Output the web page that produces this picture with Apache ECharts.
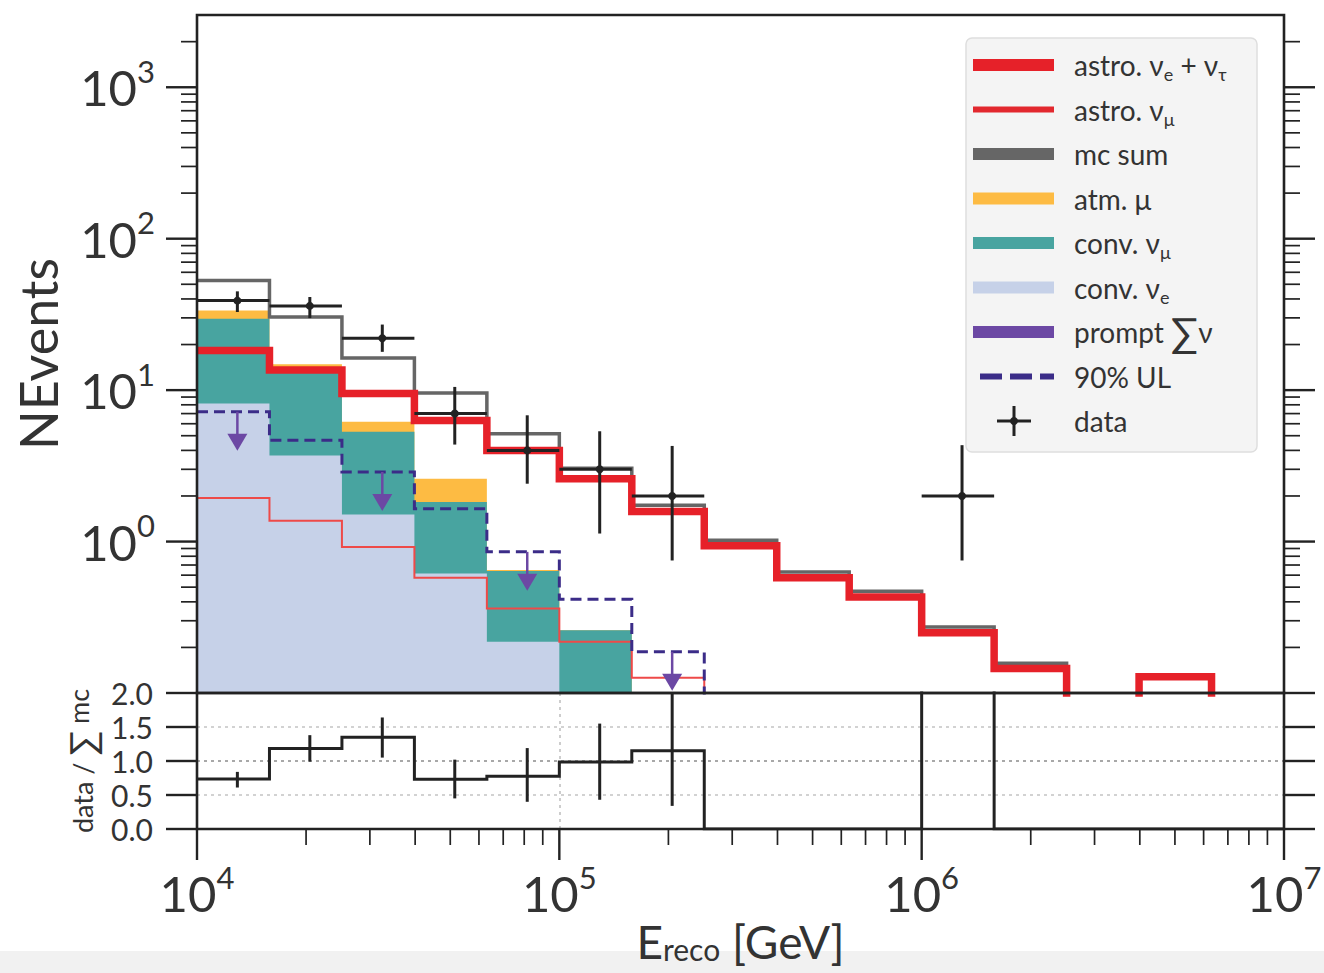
<!DOCTYPE html>
<html>
<head>
<meta charset="utf-8">
<title>Reconstructed energy distribution</title>
<script src="https://cdn.jsdelivr.net/npm/echarts@6/dist/echarts.min.js"></script>
<style>
  html, body { margin: 0; padding: 0; background: #ffffff; }
  #chart { width: 1324px; height: 973px; }
</style>
</head>
<body>
<div id="chart"></div>
<script>
// ---- Binning: 15 bins of 0.2 decades in reconstructed energy (GeV) ----
const binEdgeExponents = [4.0, 4.2, 4.4, 4.6, 4.8, 5.0, 5.2, 5.4, 5.6, 5.8, 6.0, 6.2, 6.4, 6.6, 6.8, 7.0];

// ---- Expected events per bin ----
const convNuE      = [8.15, 3.7, 1.51, 0.615, 0.218, 0.07, 0.03, 0.012, 0.005, 0.003, 0.002, 0.001, 0.001, 0.001, 0.001];
const convNuMu     = [21.5, 10.1, 3.8, 1.21, 0.42, 0.19, 0.05, 0.02, 0.008, 0.004, 0.002, 0.001, 0.001, 0.001, 0.001];
const atmMu        = [3.9, 1.0, 0.87, 0.77, 0.01, 0.0, 0.0, 0.0, 0.0, 0.0, 0.0, 0.0, 0.0, 0.0, 0.0];
const astroCascade = [18.3, 13.6, 9.5, 6.3, 4.0, 2.6, 1.58, 0.94, 0.576, 0.43, 0.25, 0.145, 0.075, 0.128, 0.05];
const astroNuMu    = [1.94, 1.37, 0.92, 0.576, 0.361, 0.218, 0.126, 0.07, 0.04, 0.025, 0.015, 0.008, 0.005, 0.003, 0.002];
const mcSum        = [53.0, 30.4, 16.3, 9.58, 5.16, 3.05, 1.74, 1.02, 0.63, 0.47, 0.273, 0.157, 0.08, 0.13, 0.052];
const promptUL     = [7.2, 4.66, 2.88, 1.65, 0.855, 0.416, 0.187, 0.08, 0.04, 0.02, 0.01, 0.005, 0.003, 0.002, 0.001];
const ulArrowBins  = [0, 2, 4, 6];

// ---- Observed events ----
const dataCounts = [39, 36, 22, 7, 4, 3, 2, 0, 0, 0, 2, 0, 0, 0, 0];
const dataLow    = [32.8, 29.9, 17.9, 4.37, 2.41, 1.13, 0.75, null, null, null, 0.75, null, null, null, null];
const dataHigh   = [44.9, 41.2, 27.1, 10.5, 6.82, 5.35, 4.28, null, null, null, 4.33, null, null, null, null];

// ---- Ratio panel error bars (data / sum mc) ----
const ratioLow  = [0.61, 0.99, 1.05, 0.45, 0.40, 0.43, 0.34, null, null, null, null, null, null, null, null];
const ratioHigh = [0.84, 1.38, 1.64, 1.02, 1.19, 1.55, 2.05, null, null, null, null, null, null, null, null];

// ---- Axis ranges and tick values ----
const yRangeTop   = [0.1, 3000];
const yRangeRatio = [0, 2];
const yMajorTop   = [1, 10, 100, 1000];
const yMajorRatio = [0, 0.5, 1.0, 1.5, 2.0];
const xMajor      = [1e4, 1e5, 1e6, 1e7];
const minorMultipliers = [2, 3, 4, 5, 6, 7, 8, 9];

// ---- Colours ----
const C_RED = '#e62129', C_GRAY = '#666666', C_ORANGE = '#fdbb43', C_TEAL = '#48a4a0',
      C_LIGHT = '#c6d1e8', C_PURPLE = '#6c48a4', C_UL = '#3b2c88', C_BLACK = '#222222',
      C_TEXT = '#333333';
const FONT = 'Lato, "DejaVu Sans", sans-serif';

const edges = binEdgeExponents.map(e => Math.pow(10, e));
const X_MIN = edges[0], X_MAX = edges[edges.length - 1];
const centers = edges.slice(0, -1).map((e, i) => (e + edges[i + 1]) / 2);

// histogram -> step polyline: one point per lower edge plus the last upper edge
function stepData(values) {
  const pts = values.map((v, i) => [edges[i], v]);
  pts.push([edges[values.length], values[values.length - 1]]);
  return pts;
}

// stacked atmospheric components
const stackNuE   = convNuE.slice();
const stackNuMu  = convNuE.map((v, i) => v + convNuMu[i]);
const stackAtmMu = stackNuMu.map((v, i) => v + atmMu[i]);

// ratio = data / mc sum
const ratio = dataCounts.map((d, i) => d / mcSum[i]);

function fillSeries(name, values, color, z) {
  return {
    type: 'line', name, xAxisIndex: 0, yAxisIndex: 0, step: 'end', symbol: 'none',
    data: stepData(values), z, silent: true,
    lineStyle: { width: 0, opacity: 0 },
    areaStyle: { color, opacity: 1, origin: 'start' }
  };
}
function lineSeries(name, values, color, width, z, type, axisIdx) {
  const ax = axisIdx || 0;
  return {
    type: 'line', name, xAxisIndex: ax, yAxisIndex: ax, step: 'end', symbol: 'none',
    data: stepData(values), z, silent: true,
    lineStyle: { color, width, type: type || 'solid', cap: 'butt', join: 'miter' }
  };
}

// tick data: [x, y, kind]  kind 0 y-major, 1 y-minor, 2 x-major, 3 x-minor
function buildTicks(yMajors, yMinors, withX, yRef) {
  const t = [];
  yMajors.forEach(v => t.push([X_MIN, v, 0]));
  yMinors.forEach(v => t.push([X_MIN, v, 1]));
  if (withX) {
    xMajor.forEach(v => t.push([v, yRef, 2]));
    for (let d = 4; d < 7; d++) minorMultipliers.forEach(k => t.push([k * Math.pow(10, d), yRef, 3]));
  }
  return t;
}
const yMinorTop = [];
for (let d = -1; d <= 3; d++) minorMultipliers.forEach(k => {
  const v = k * Math.pow(10, d);
  if (v > yRangeTop[0] && v < yRangeTop[1]) yMinorTop.push(v);
});

function tickRender(params, api) {
  const kind = api.value(2);
  const cs = params.coordSys;
  const p = api.coord([api.value(0), api.value(1)]);
  const major = kind === 0 || kind === 2;
  const len = major ? 31 : 16;
  const style = { stroke: C_BLACK, lineWidth: major ? 2.4 : 1.7 };
  if (kind < 2) {
    return { type: 'group', children: [
      { type: 'line', shape: { x1: cs.x - len, y1: p[1], x2: cs.x, y2: p[1] }, style },
      { type: 'line', shape: { x1: cs.x + cs.width, y1: p[1], x2: cs.x + cs.width + len, y2: p[1] }, style }
    ]};
  }
  const yb = cs.y + cs.height;
  return { type: 'line', shape: { x1: p[0], y1: yb, x2: p[0], y2: yb + len }, style };
}
function frameRender(params) {
  const cs = params.coordSys;
  return { type: 'rect', shape: { x: cs.x, y: cs.y, width: cs.width, height: cs.height },
           style: { fill: 'none', stroke: C_BLACK, lineWidth: 2.6 } };
}

function powLabel(minExp) {
  return function (v) {
    const l = Math.log10(v), e = Math.round(l);
    if (Math.abs(l - e) > 1e-6 || e < minExp) return '';
    return '{b|10}{s|' + e + '}';
  };
}
const powRich = {
  b: { fontSize: 49, lineHeight: 64, fontFamily: FONT, color: C_TEXT },
  s: { fontSize: 31, lineHeight: 36, verticalAlign: 'top', fontFamily: FONT, color: C_TEXT }
};

// data points with x-extent of the bin and asymmetric y errors
const dataPoints = [];
dataCounts.forEach((d, i) => {
  if (d > 0) dataPoints.push([centers[i], d, dataLow[i], dataHigh[i], edges[i], edges[i + 1]]);
});
const ratioPoints = [];
ratio.forEach((r, i) => {
  if (ratioLow[i] != null) ratioPoints.push([centers[i], r, ratioLow[i], ratioHigh[i]]);
});
const ulPoints = ulArrowBins.map(i => [centers[i], promptUL[i]]);

const series = [
  fillSeries('atm. μ', stackAtmMu, C_ORANGE, 1),
  fillSeries('conv. νμ', stackNuMu, C_TEAL, 2),
  fillSeries('conv. νe', stackNuE, C_LIGHT, 3),
  lineSeries('astro. νμ', astroNuMu, '#ee4a48', 2, 4),
  lineSeries('mc sum', mcSum, C_GRAY, 3.5, 5),
  lineSeries('astro. νe + ντ', astroCascade, C_RED, 7.5, 6),
  lineSeries('90% UL', promptUL, C_UL, 3, 7, [11, 6]),
  {
    type: 'custom', name: 'UL arrows', xAxisIndex: 0, yAxisIndex: 0, z: 8, silent: true,
    data: ulPoints, encode: { x: 0, y: 1 },
    renderItem(params, api) {
      const p = api.coord([api.value(0), api.value(1)]);
      return { type: 'group', children: [
        { type: 'line', shape: { x1: p[0], y1: p[1], x2: p[0], y2: p[1] + 24 }, style: { stroke: C_PURPLE, lineWidth: 2.5 } },
        { type: 'polygon', shape: { points: [[p[0] - 10, p[1] + 22], [p[0] + 10, p[1] + 22], [p[0], p[1] + 39]] }, style: { fill: C_PURPLE } }
      ]};
    }
  },
  {
    type: 'custom', name: 'data', xAxisIndex: 0, yAxisIndex: 0, z: 9, silent: true,
    data: dataPoints, encode: { x: 0, y: 1 },
    renderItem(params, api) {
      const x = api.value(0);
      const c = api.coord([x, api.value(1)]);
      const lo = api.coord([x, api.value(2)]);
      const hi = api.coord([x, api.value(3)]);
      const l = api.coord([api.value(4), api.value(1)]);
      const r = api.coord([api.value(5), api.value(1)]);
      const st = { stroke: C_BLACK, lineWidth: 3 };
      return { type: 'group', children: [
        { type: 'line', shape: { x1: l[0], y1: c[1], x2: r[0], y2: c[1] }, style: st },
        { type: 'line', shape: { x1: c[0], y1: hi[1], x2: c[0], y2: lo[1] }, style: st },
        { type: 'circle', shape: { cx: c[0], cy: c[1], r: 4 }, style: { fill: C_BLACK } }
      ]};
    }
  },
  // ratio panel
  lineSeries('ratio', ratio, C_BLACK, 3, 5, 'solid', 1),
  {
    type: 'custom', name: 'ratio errors', xAxisIndex: 1, yAxisIndex: 1, z: 6, silent: true, clip: true,
    data: ratioPoints, encode: { x: 0, y: 1 },
    renderItem(params, api) {
      const x = api.value(0);
      const lo = api.coord([x, api.value(2)]);
      const hi = api.coord([x, api.value(3)]);
      return { type: 'line', shape: { x1: lo[0], y1: hi[1], x2: lo[0], y2: lo[1] }, style: { stroke: C_BLACK, lineWidth: 3 } };
    }
  },
  // frames and ticks
  { type: 'custom', xAxisIndex: 0, yAxisIndex: 0, z: 20, silent: true, clip: false,
    data: [[X_MIN, yRangeTop[0]]], encode: { x: 0, y: 1 }, renderItem: frameRender },
  { type: 'custom', xAxisIndex: 1, yAxisIndex: 1, z: 20, silent: true, clip: false,
    data: [[X_MIN, yRangeRatio[0]]], encode: { x: 0, y: 1 }, renderItem: frameRender },
  { type: 'custom', xAxisIndex: 0, yAxisIndex: 0, z: 20, silent: true, clip: false,
    data: buildTicks(yMajorTop, yMinorTop, false), encode: { x: 0, y: 1 }, renderItem: tickRender },
  { type: 'custom', xAxisIndex: 1, yAxisIndex: 1, z: 20, silent: true, clip: false,
    data: buildTicks(yMajorRatio, [], true, yRangeRatio[0]), encode: { x: 0, y: 1 }, renderItem: tickRender }
];

// ---- legend drawn as graphic elements ----
const LEG_X = 973, LEG_TXT = 1074, LEG_Y0 = 65, LEG_DY = 44.5;
const legendText = [
  'astro. ν{sub|e} + ν{sub|τ}',
  'astro. ν{sub|μ}',
  'mc sum',
  'atm. μ',
  'conv. ν{sub|μ}',
  'conv. ν{sub|e}',
  'prompt {sum|∑}ν',
  '90% UL',
  'data'
];
const legendSwatch = [
  { color: C_RED, w: 12 }, { color: '#e2282e', w: 6 }, { color: C_GRAY, w: 12 },
  { color: C_ORANGE, w: 12 }, { color: C_TEAL, w: 12 }, { color: C_LIGHT, w: 12 },
  { color: C_PURPLE, w: 12 }, { color: C_UL, w: 6, dash: [22, 8] }, null
];
const legendElems = [{
  type: 'rect', shape: { x: 966, y: 38, width: 291, height: 414, r: 6 },
  style: { fill: '#f4f4f4', stroke: '#dedede', lineWidth: 1.5 }, z: 100
}];
legendText.forEach((t, i) => {
  const y = LEG_Y0 + i * LEG_DY;
  const sw = legendSwatch[i];
  if (sw) {
    legendElems.push({ type: 'line', z: 101,
      shape: { x1: sw.dash ? 980 : LEG_X, y1: y, x2: 1054, y2: y },
      style: { stroke: sw.color, lineWidth: sw.w, lineDash: sw.dash || null } });
  } else {
    legendElems.push(
      { type: 'line', z: 101, shape: { x1: 997, y1: y, x2: 1031, y2: y }, style: { stroke: C_BLACK, lineWidth: 3 } },
      { type: 'line', z: 101, shape: { x1: 1014, y1: y - 15, x2: 1014, y2: y + 15 }, style: { stroke: C_BLACK, lineWidth: 3 } },
      { type: 'circle', z: 101, shape: { cx: 1014, cy: y, r: 4 }, style: { fill: C_BLACK } }
    );
  }
  legendElems.push({
    type: 'text', z: 101, x: LEG_TXT, y: y,
    style: {
      text: t, fontSize: 28, fontFamily: FONT, fill: C_TEXT, lineHeight: 36,
      verticalAlign: 'middle', align: 'left',
      rich: {
        sub: { fontSize: 18, lineHeight: 23, verticalAlign: 'bottom', fontFamily: FONT, fill: C_TEXT, color: C_TEXT },
        sum: { fontSize: 40, lineHeight: 42, fontFamily: FONT, fill: C_TEXT, color: C_TEXT }
      }
    }
  });
});

const chart = echarts.init(document.getElementById('chart'), null, { renderer: 'svg' });
chart.setOption({
  animation: false,
  backgroundColor: '#ffffff',
  grid: [
    { left: 197, top: 15, width: 1087, height: 678, show: false, outerBoundsMode: 'none' },
    { left: 197, top: 693, width: 1087, height: 136, show: false, outerBoundsMode: 'none' }
  ],
  xAxis: [
    { gridIndex: 0, type: 'log', logBase: 10, min: X_MIN, max: X_MAX,
      axisLine: { show: false }, axisTick: { show: false }, axisLabel: { show: false }, splitLine: { show: false } },
    { gridIndex: 1, type: 'log', logBase: 10, min: X_MIN, max: X_MAX,
      axisLine: { show: false }, axisTick: { show: false },
      axisLabel: { formatter: powLabel(-99), margin: 32, rich: powRich, showMinLabel: true, showMaxLabel: true },
      splitLine: { show: true, lineStyle: { type: [3, 4], color: '#bdbdbd', width: 1.5 } },
      name: '{e|E}{sub|reco}{e| [GeV]}', nameLocation: 'middle', nameGap: 89,
      nameTextStyle: {
        rich: {
          e: { fontSize: 46, lineHeight: 46, fontFamily: FONT, color: C_TEXT },
          sub: { fontSize: 30, lineHeight: 22, verticalAlign: 'bottom', fontFamily: FONT, color: C_TEXT }
        }
      } }
  ],
  yAxis: [
    { gridIndex: 0, type: 'log', logBase: 10, min: yRangeTop[0], max: yRangeTop[1],
      axisLine: { show: false }, axisTick: { show: false }, splitLine: { show: false },
      axisLabel: { formatter: powLabel(0), margin: 42, rich: powRich },
      name: 'NEvents', nameLocation: 'middle', nameRotate: 90, nameGap: 134,
      nameTextStyle: { fontSize: 52, lineHeight: 50, fontFamily: FONT, color: C_TEXT } },
    { gridIndex: 1, type: 'value', min: yRangeRatio[0], max: yRangeRatio[1], interval: 0.5,
      axisLine: { show: false }, axisTick: { show: false },
      axisLabel: { formatter: v => v.toFixed(1), margin: 44, fontSize: 30, fontFamily: FONT, color: C_TEXT,
                   showMinLabel: true, showMaxLabel: true },
      splitLine: { show: true, lineStyle: { type: [3, 4], width: 1.5,
                   color: ['#c4c4c4', '#c4c4c4', '#8c8c8c', '#c4c4c4', '#c4c4c4'] } },
      name: '{a|data / }{s|∑}{m| mc}', nameLocation: 'middle', nameRotate: 90, nameGap: 95,
      nameTextStyle: {
        rich: {
          a: { fontSize: 27, lineHeight: 34, fontFamily: FONT, color: C_TEXT },
          s: { fontSize: 36, lineHeight: 34, fontFamily: FONT, color: C_TEXT },
          m: { fontSize: 27, lineHeight: 28, verticalAlign: 'top', fontFamily: FONT, color: C_TEXT }
        }
      } }
  ],
  graphic: [
    { type: 'rect', z: -10, silent: true, shape: { x: 0, y: 951, width: 1324, height: 22 }, style: { fill: '#f1f1f1' } },
    { type: 'group', children: legendElems }
  ],
  series
});
</script>
</body>
</html>
